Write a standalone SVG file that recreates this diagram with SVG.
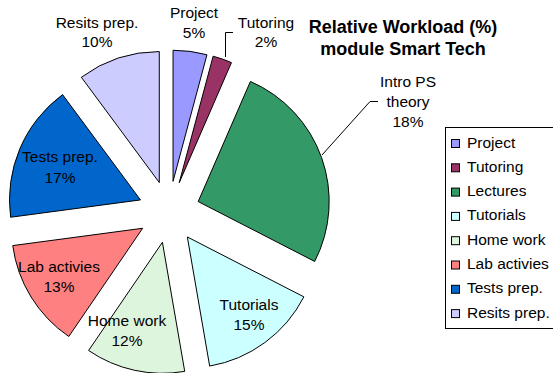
<svg xmlns="http://www.w3.org/2000/svg" width="553" height="373" viewBox="0 0 553 373">
<style>
.sl{stroke:#000;stroke-width:1;stroke-linejoin:round}
.lb{font-family:"Liberation Sans",Arial,sans-serif;font-size:15.5px;fill:#000;text-anchor:middle}
.lg{font-family:"Liberation Sans",Arial,sans-serif;font-size:15.5px;fill:#000}
.tt{font-family:"Liberation Sans",Arial,sans-serif;font-size:18px;font-weight:bold;fill:#000;text-anchor:middle}
.ld{fill:none;stroke:#000;stroke-width:1}
.sw{stroke:#000;stroke-width:1}
</style>
<rect width="553" height="373" fill="#fff"/>
<g id="title">
<text class="tt" x="403" y="33">Relative Workload (%)</text>
<text class="tt" x="403" y="55">module Smart Tech</text>
</g>
<g id="slice-project">
<path class="sl" fill="#9999FF" d="M173.05,181.27 L173.05,50.27 A131,131 0 0 1 206.96,54.73 Z"/>
<text class="lb" x="194" y="17.5">Project</text>
<text class="lb" x="194" y="37.5">5%</text>
</g>
<g id="slice-tutoring">
<path class="sl" fill="#993366" d="M179.22,182.73 L213.13,56.19 A131,131 0 0 1 231.46,62.6 Z"/>
<text class="lb" x="266" y="27.5">Tutoring</text>
<text class="lb" x="266" y="47">2%</text>
</g>
<g id="slice-lectures">
<path class="sl" fill="#339966" d="M198.19,201.58 L250.43,81.45 A131,131 0 0 1 314.7,261.45 Z"/>
<text class="lb" x="408" y="87">Intro PS</text>
<text class="lb" x="408" y="107">theory</text>
<text class="lb" x="408" y="127">18%</text>
</g>
<g id="slice-tutorials">
<path class="sl" fill="#CCFFFF" d="M187.35,236.98 L303.86,296.85 A131,131 0 0 1 209.65,366.07 Z"/>
<text class="lb" x="249" y="309.5">Tutorials</text>
<text class="lb" x="249" y="329.5">15%</text>
</g>
<g id="slice-homework">
<path class="sl" fill="#DDF5DD" d="M162.42,242.29 L184.72,371.38 A131,131 0 0 1 88.6,350.51 Z"/>
<text class="lb" x="127" y="326">Home work</text>
<text class="lb" x="127" y="346">12%</text>
</g>
<g id="slice-lab">
<path class="sl" fill="#FF8080" d="M142.61,228.27 L68.79,336.49 A131,131 0 0 1 12.76,245.6 Z"/>
<text class="lb" x="59" y="272">Lab activies</text>
<text class="lb" x="59" y="292">13%</text>
</g>
<g id="slice-tests">
<path class="sl" fill="#0066CC" d="M140.46,199.91 L10.61,217.24 A131,131 0 0 1 62.54,94.6 Z"/>
<text class="lb" x="60" y="162">Tests prep.</text>
<text class="lb" x="60" y="183">17%</text>
</g>
<g id="slice-resits">
<path class="sl" fill="#CCCCFF" d="M159.29,182.56 L81.37,77.25 A131,131 0 0 1 159.29,51.56 Z"/>
<text class="lb" x="97" y="27.5">Resits prep.</text>
<text class="lb" x="97" y="47">10%</text>
</g>
<g id="connectors">
<polyline class="ld" points="225.5,57 225.5,32.5 233,32.5"/>
<polyline class="ld" points="322,155 370,101.5 378,101.5"/>
</g>
<g id="legend">
<rect x="445.5" y="127.5" width="120" height="201" fill="#fff" stroke="#000" stroke-width="1"/>
<rect class="sw" x="451.5" y="139.5" width="8" height="8" fill="#9999FF"/>
<text class="lg" x="467" y="147.5">Project</text>
<rect class="sw" x="451.5" y="163.8" width="8" height="8" fill="#993366"/>
<text class="lg" x="467" y="171.8">Tutoring</text>
<rect class="sw" x="451.5" y="188.1" width="8" height="8" fill="#339966"/>
<text class="lg" x="467" y="196.1">Lectures</text>
<rect class="sw" x="451.5" y="212.4" width="8" height="8" fill="#CCFFFF"/>
<text class="lg" x="467" y="220.4">Tutorials</text>
<rect class="sw" x="451.5" y="236.7" width="8" height="8" fill="#DDF5DD"/>
<text class="lg" x="467" y="244.7">Home work</text>
<rect class="sw" x="451.5" y="261" width="8" height="8" fill="#FF8080"/>
<text class="lg" x="467" y="269">Lab activies</text>
<rect class="sw" x="451.5" y="285.3" width="8" height="8" fill="#0066CC"/>
<text class="lg" x="467" y="293.3">Tests prep.</text>
<rect class="sw" x="451.5" y="309.6" width="8" height="8" fill="#CCCCFF"/>
<text class="lg" x="467" y="317.6">Resits prep.</text>
</g>
</svg>
